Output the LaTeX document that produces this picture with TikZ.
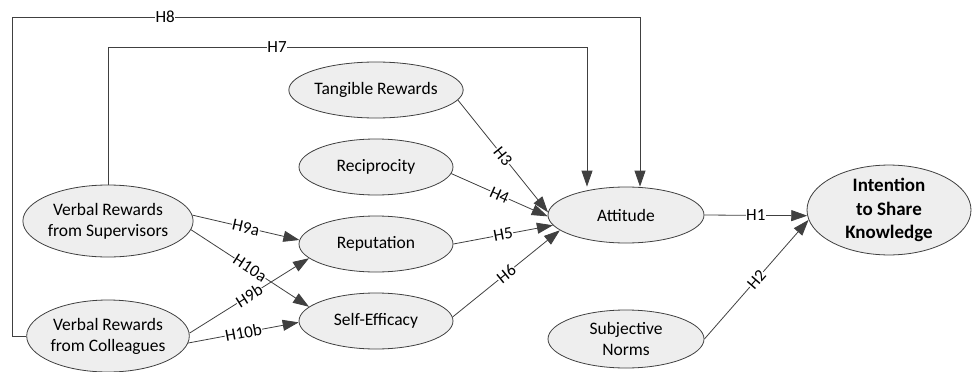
\documentclass[tikz,border=0pt]{standalone}
\usepackage{fontspec}
\setmainfont{Carlito}
\usetikzlibrary{shapes.geometric,arrows.meta}
\definecolor{ln}{HTML}{404040}
\definecolor{fl}{HTML}{EEEEEE}
\tikzset{
  var/.style={ellipse, draw=ln, line width=0.8pt, fill=fl, inner sep=0pt,
    minimum width=154pt, minimum height=56pt, align=center,
    font=\fontsize{17.5}{21}\selectfont},
  conn/.style={draw=ln, line width=0.8pt, -{Triangle[length=16pt,width=11pt]}},
  plainln/.style={draw=ln, line width=0.8pt},
  lab/.style={fill=white, inner sep=0.5pt, font=\fontsize{17}{20}\selectfont, text=black},
}
\begin{document}
\begin{tikzpicture}[x=1pt,y=-1pt]
\useasboundingbox (0,0) rectangle (972,372);
% nodes
\node[var] (tan) at (376,90) {Tangible Rewards};
\node[var] (rec) at (376,167) {Reciprocity};
\node[var] (rep) at (376,244) {Reputation};
\node[var] (sef) at (376,321) {Self-Efficacy};
\node[var, minimum width=156pt, minimum height=72pt] (sup) at (108,221) {Verbal Rewards\\from Supervisors};
\node[var, minimum width=156pt, minimum height=72pt] (col) at (108,336) {Verbal Rewards\\from Colleagues};
\node[var, minimum width=156pt] (att) at (626,215) {Attitude};
\node[var, minimum width=156pt, minimum height=58pt] (sn) at (626,339) {Subjective\\Norms};
\node[var, minimum width=164pt, minimum height=86pt, font=\fontsize{19}{23.5}\selectfont\bfseries] (int) at (889,210) {Intention\\to Share\\Knowledge};
% corner coordinates
\coordinate (h7a) at (108,47);
\coordinate (h7b) at (587,47);
\coordinate (h8a) at (12,336);
\coordinate (h8b) at (12,17);
\coordinate (h8c) at (640,17);
% H7, H8
\draw[plainln] (sup.north) -- (h7a) -- node[lab, pos=0.353]{H7} (h7b);
\draw[conn] (h7b) -- (h7b |- att.north);
\draw[plainln] (col.west) -- (h8a) -- (h8b) -- node[lab, pos=0.244]{H8} (h8c);
\draw[conn] (h8c) -- (h8c |- att.north);
% H3-H6
\draw[conn] (tan.-7) -- node[lab, sloped]{H3} (att.178);
\draw[conn] (rec.-5) -- node[lab, sloped]{H4} (att.181);
\draw[conn] (rep.0) -- node[lab, sloped]{H5} (att.188);
\draw[conn] (sef.3) -- node[lab, sloped]{H6} (att.193);
% H1, H2
\draw[conn] (att.east) -- node[lab]{H1} (int.184);
\draw[conn] (sn.east) -- node[lab, sloped]{H2} (int.187);
% H9, H10
\draw[conn] (sup.4) -- node[lab, sloped]{H9a} (rep.177);
\draw[conn] (sup.-6) -- node[lab, sloped]{H10a} (sef.168.5);
\draw[conn] (col.2) -- node[lab, sloped]{H9b} (rep.192);
\draw[conn] (col.-5) -- node[lab, sloped]{H10b} (sef.181);
\end{tikzpicture}
\end{document}
